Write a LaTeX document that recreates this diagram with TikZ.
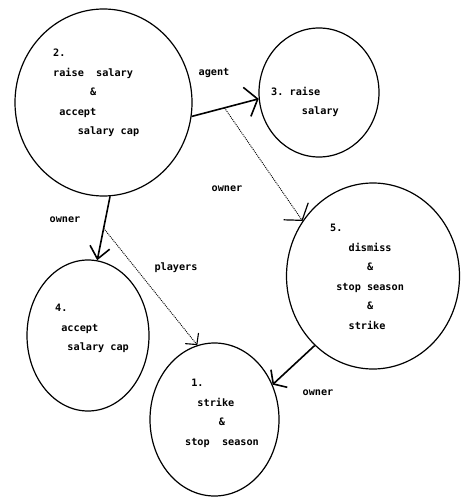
\documentclass[tikz,border=0pt]{standalone}
\usepackage{fontspec}
\setmonofont{DejaVu Sans Mono}
\usetikzlibrary{arrows.meta,shapes.geometric}
\newlength\cw
\newcommand\idt[1]{\hspace*{#1\cw}}

\begin{document}
\settowidth\cw{\ttfamily\bfseries\fontsize{10.2}{12}\selectfont x}
\begin{tikzpicture}[x=1pt, y=-1pt,
  state/.style={draw, ellipse, inner sep=0pt, line width=1.2pt},
  txt/.style={anchor=north west, inner sep=0pt, align=left,
    font=\ttfamily\bfseries\fontsize{10.2}{19.5}\selectfont},
  lbl/.style={inner sep=0pt, font=\ttfamily\bfseries\fontsize{10.2}{12}\selectfont},
  act/.style={line width=1.6pt},
  weak/.style={line width=0.9pt, dash pattern=on 1pt off 1pt}]
  \useasboundingbox (0,0) rectangle (461,497);
  % States
  \node[state, minimum width=177pt, minimum height=187pt] (n2) at (103.5,102.5) {};
  \node[state, minimum width=120pt, minimum height=129pt] (n3) at (319,92.5) {};
  \node[state, minimum width=173pt, minimum height=186pt] (n5) at (373,276) {};
  \node[state, minimum width=122pt, minimum height=151pt] (n4) at (88,335.5) {};
  \node[state, minimum width=129pt, minimum height=153pt] (n1) at (214.5,419.5) {};
  % Texts
  \node[txt] (t2) at (53,49) {2.\\raise~~salary\\\idt{6}\&\\\idt{1}accept\\\idt{4}salary~cap};
  \node[txt] (t3) at (271,87) {3.~raise\\\idt{5}salary};
  \node[txt] (t5) at (330,224) {5.\\\idt{3}dismiss\\\idt{6}\&\\\idt{1}stop~season\\\idt{6}\&\\\idt{3}strike};
  \node[txt] (t4) at (55,304) {4.\\\idt{1}accept\\\idt{2}salary~cap};
  \node[txt] (t1) at (185,379) {\idt{1}1.\\\idt{2}strike\\\idt{5.5}\&\\stop~~season};
  % Actions
  \draw[act, -{Straight Barb[length=11pt, width=30pt]}]
    (n2.-9) -- coordinate[pos=0.49] (b23) (n3.186);
  \draw[act, -{Straight Barb[length=12pt, width=20pt]}]
    (n2.-86) -- coordinate[pos=0.5] (b24) (n4.83);
  \draw[act, -{Straight Barb[length=8pt, width=24pt]}]
    (n5.230) -- (n1.31.5);
  \draw[weak, -{Straight Barb[length=11pt, width=30pt, line width=1.2pt]}]
    (b23) -- (n5.142);
  \draw[weak, -{Straight Barb[length=8pt, width=17pt, line width=1.1pt]}]
    (b24) -- (n1.103);
  % Labels
  \node[lbl] (l23) at (214,73) {agent};
  \node[lbl] (l25) at (227,189) {owner};
  \node[lbl] (l24) at (65,220) {owner};
  \node[lbl] (l21) at (176,268) {players};
  \node[lbl] (l51) at (318,393) {owner};
\end{tikzpicture}
\end{document}
